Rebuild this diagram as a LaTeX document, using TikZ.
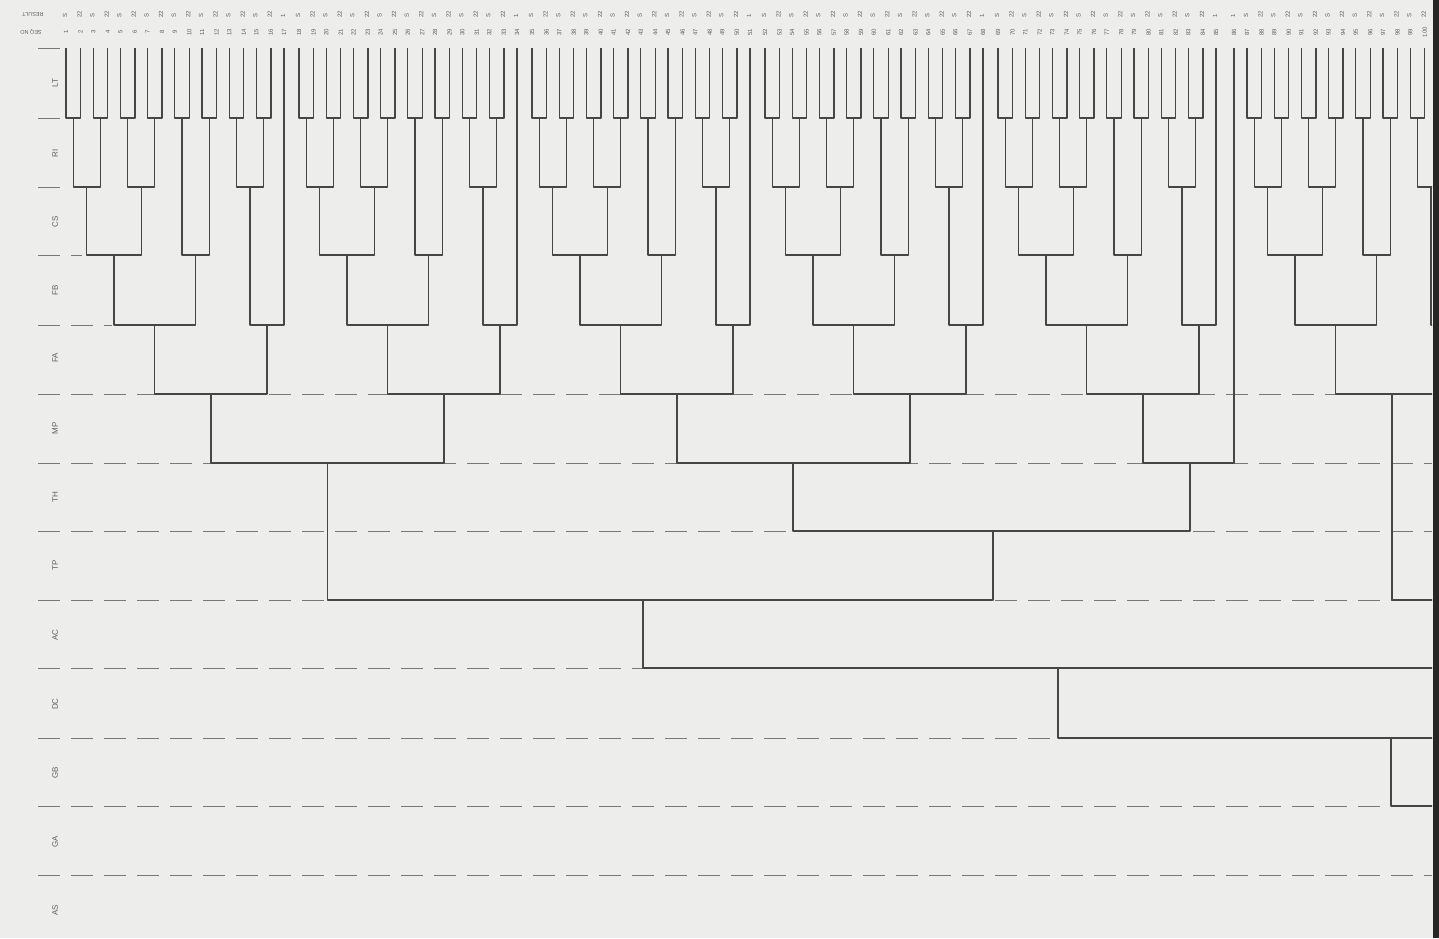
\documentclass[tikz,border=0pt]{standalone}
\usepackage{fontspec}
\setmainfont{Liberation Sans}
\definecolor{bg}{RGB}{237,237,235}
\definecolor{ink}{RGB}{70,70,70}
\definecolor{sepc}{RGB}{120,120,120}
\definecolor{txt}{RGB}{95,95,95}
\tikzset{
  branch/.style={draw=ink, line width=1.25pt, line join=round},
  sepline/.style={draw=sepc, line width=0.9pt, dash pattern=on 22pt off 11pt},
  head/.style={text=txt, font=\fontsize{8}{8}\selectfont, rotate=90, inner sep=0pt},
  seqno/.style={text=txt, font=\fontsize{6}{6}\selectfont, rotate=90, inner sep=0pt},
  resno/.style={text=txt, font=\fontsize{6}{6}\selectfont, rotate=90, inner sep=0pt, anchor=west},
  colhead/.style={text=txt, font=\fontsize{5.5}{5.5}\selectfont, rotate=180, inner sep=0pt},
}
\begin{document}
\begin{tikzpicture}[x=1pt,y=-1pt]
\fill[bg] (0,0) rectangle (1439,938);
\useasboundingbox (0,0) rectangle (1439,938);

% ---- row separators
\foreach \y in {48,118,187} \draw[sepline] (38,\y) -- (62,\y);
\draw[sepline] (38,255) -- (82,255);
\draw[sepline] (38,325) -- (112,325);
\foreach \y in {394,463,531,600,668,738,806,875} \draw[sepline] (38,\y) -- (1432,\y);

% ---- headings
\node[head] (hLT) at (55,83) {LT};
\node[head] (hRI) at (55,153) {RI};
\node[head] (hCS) at (55,222) {CS};
\node[head] (hFB) at (55,290) {FB};
\node[head] (hFA) at (55,358) {FA};
\node[head] (hMP) at (55,428) {MP};
\node[head] (hTH) at (55,497) {TH};
\node[head] (hTP) at (55,565) {TP};
\node[head] (hAC) at (55,635) {AC};
\node[head] (hDC) at (55,704) {DC};
\node[head] (hGB) at (55,773) {GB};
\node[head] (hGA) at (55,842) {GA};
\node[head] (hAS) at (55,910) {AS};

\node[colhead] (hres) at (33,14) {RESULT};
\node[colhead] (hseq) at (31,32) {SEQ NO};

% ---- sequence numbers and results
\foreach \b/\o in {1/66,2/299,3/532,4/765,5/998}{
  \foreach \k in {0,...,7}{
    \pgfmathtruncatemacro{\na}{17*(\b-1)+2*\k+1}
    \pgfmathtruncatemacro{\nb}{\na+1}
    \node[seqno] (sq\na) at ({\o+27.2*\k},32) {\na};
    \node[seqno] (sq\nb) at ({\o+27.2*\k+14.5},32) {\nb};
    \node[resno] (rs\na) at ({\o+27.2*\k-1},18) {S};
    \node[resno] (rs\nb) at ({\o+27.2*\k+13.5},18) {22};
  }
  \pgfmathtruncatemacro{\nc}{17*\b}
  \node[seqno] (sq\nc) at ({\o+218},32) {\nc};
  \node[resno] (rs\nc) at ({\o+217},18) {1};
}
\node[seqno] (sq86) at (1234,32) {86};
\node[resno] (rs86) at (1233,18) {1};
\foreach \k in {0,...,6}{
  \pgfmathtruncatemacro{\na}{86+2*\k+1}
  \pgfmathtruncatemacro{\nb}{\na+1}
  \node[seqno] (sq\na) at ({1247+27.2*\k},32) {\na};
  \node[seqno] (sq\nb) at ({1247+27.2*\k+14.5},32) {\nb};
  \node[resno] (rs\na) at ({1247+27.2*\k-1},18) {S};
  \node[resno] (rs\nb) at ({1247+27.2*\k+13.5},18) {22};
}

% ---- tree
\begin{scope}
\clip (0,0) rectangle (1432,938);
\foreach \b/\o in {1/66,2/299,3/532,4/765,5/998,6/1247}{
  \foreach \k in {0,...,7}{
    \coordinate (b\b-l\k) at ({\o+27.2*\k},48);
    \coordinate (b\b-r\k) at ({\o+27.2*\k+14.5},48);
    \coordinate (b\b-p\k) at ({\o+27.2*\k+7.25},118);
    \draw[branch] (b\b-l\k) |- (b\b-p\k) -| (b\b-r\k);
  }
  \coordinate (b\b-s) at ({\o+218},48);
  \coordinate (b\b-A) at ({\o+20.85},187);
  \coordinate (b\b-B) at ({\o+75.25},187);
  \coordinate (b\b-D) at ({\o+184.05},187);
  \coordinate (b\b-C) at ({\o+129.65},255);
  \coordinate (b\b-E) at ({\o+48.05},255);
  \coordinate (b\b-F) at ({\o+88.85},325);
  \coordinate (b\b-G) at ({\o+201},325);
  \coordinate (b\b-H) at ({\o+144.9},394);
  \draw[branch] (b\b-p0) |- (b\b-A) -| (b\b-p1);
  \draw[branch] (b\b-p2) |- (b\b-B) -| (b\b-p3);
  \draw[branch] (b\b-p6) |- (b\b-D) -| (b\b-p7);
  \draw[branch] (b\b-p4) |- (b\b-C) -| (b\b-p5);
  \draw[branch] (b\b-A) |- (b\b-E) -| (b\b-B);
  \draw[branch] (b\b-E) |- (b\b-F) -| (b\b-C);
  \draw[branch] (b\b-D) |- (b\b-G) -| (b\b-s);
  \draw[branch] (b\b-F) |- (b\b-H) -| (b\b-G);
}
\coordinate (s86) at (1234,48);
\coordinate (M1) at (327.5,463);
\coordinate (M2) at (793,463);
\coordinate (M3) at (1190,463);
\coordinate (T1) at (993,531);
\coordinate (P1) at (643,600);
\coordinate (P2) at (1470,600);
\coordinate (A1) at (1058,668);
\coordinate (offA) at (1475,630);
\coordinate (D1) at (1391,738);
\coordinate (offD) at (1480,700);
\coordinate (G1) at (1470,806);
\draw[branch] (b1-H) |- (M1) -| (b2-H);
\draw[branch] (b3-H) |- (M2) -| (b4-H);
\draw[branch] (b5-H) |- (M3) -| (s86);
\draw[branch] (M2) |- (T1) -| (M3);
\draw[branch] (M1) |- (P1) -| (T1);
\draw[branch] (b6-H) |- (P2);
\draw[branch] (P1) |- (A1) -| (offA);
\draw[branch] (A1) |- (D1) -| (offD);
\draw[branch] (D1) |- (G1);
\end{scope}

% ---- scan edge
\fill[black!85] (1433,0) rectangle (1439,938);
\end{tikzpicture}
\end{document}
